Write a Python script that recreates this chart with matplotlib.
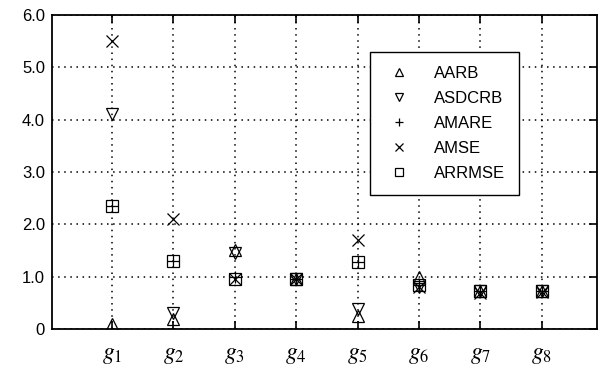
import matplotlib.pyplot as plt
import numpy as np

plt.rcParams['mathtext.fontset'] = 'stix'
plt.rcParams['font.family'] = ['Liberation Sans', 'DejaVu Sans']

# 数据
groups = ['$g_1$', '$g_2$', '$g_3$', '$g_4$', '$g_5$', '$g_6$', '$g_7$', '$g_8$']
aarb = [0.10, 0.20, 1.50, 0.95, 0.25, 1.00, 0.72, 0.72]
asdcrb = [4.10, 0.30, 1.45, 0.95, 0.38, 0.80, 0.72, 0.72]
amare = [2.35, 1.30, 1.00, 0.95, 1.28, 0.85, 0.72, 0.72]
amse = [5.50, 2.10, 0.95, 0.95, 1.70, 0.80, 0.68, 0.70]
arrmse = [2.35, 1.30, 0.95, 0.95, 1.28, 0.85, 0.72, 0.72]

ytick_vals = [0, 1, 2, 3, 4, 5, 6]
ytick_labels = ['0', '1.0', '2.0', '3.0', '4.0', '5.0', '6.0']

x = np.arange(1, len(groups) + 1)

fig = plt.figure(figsize=(6.02, 3.71), dpi=100)
ax = fig.add_axes([0.0864, 0.1132, 0.905, 0.8464])

ax.plot(x, aarb, linestyle='none', marker='^', mfc='none', mec='black', ms=8, mew=0.9, label='AARB')
ax.plot(x, asdcrb, linestyle='none', marker='v', mfc='none', mec='black', ms=8, mew=0.9, label='ASDCRB')
ax.plot(x, amare, linestyle='none', marker='+', color='black', ms=8, mew=0.9, label='AMARE')
ax.plot(x, amse, linestyle='none', marker='x', color='black', ms=8, mew=0.9, label='AMSE')
ax.plot(x, arrmse, linestyle='none', marker='s', mfc='none', mec='black', ms=8, mew=0.9, label='ARRMSE')

ax.set_xlim(0.02, 8.9)
ax.set_ylim(0, 6)
ax.set_xticks(x)
ax.set_xticklabels(groups, fontsize=17)
ax.set_yticks(ytick_vals)
ax.set_yticklabels(ytick_labels, fontsize=12)

ax.tick_params(direction='in', top=True, right=True, left=False, length=6, width=1.2)
ax.tick_params(axis='x', pad=11)
ax.tick_params(axis='y', pad=5)
ax.grid(True, linestyle=(0, (1, 3)), color='black', linewidth=1.1)
for s in ax.spines.values():
    s.set_linewidth(1.3)

leg = ax.legend(loc='upper left', bbox_to_anchor=(370 / 602, 1 - 52 / 371), bbox_transform=fig.transFigure,
                borderaxespad=0, frameon=True, fancybox=False,
                edgecolor='black', fontsize=12, handlelength=1.8, handletextpad=1.2,
                borderpad=0.85, labelspacing=0.6, markerscale=0.8)
leg.get_frame().set_linewidth(1.0)
leg.get_frame().set_alpha(1)

fig.savefig('out.png', dpi=100)
